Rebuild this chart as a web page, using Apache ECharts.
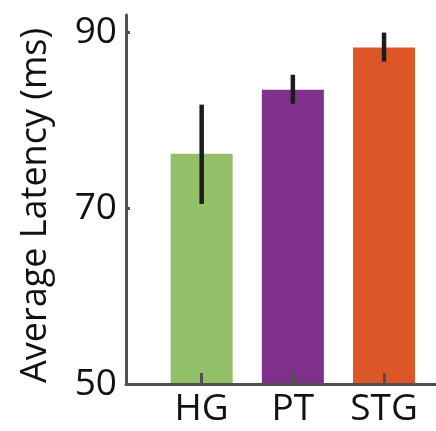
<!DOCTYPE html>
<html>
<head>
<meta charset="utf-8">
<script src="https://cdn.jsdelivr.net/npm/echarts@6/dist/echarts.min.js"></script>
<style>html,body{margin:0;padding:0;background:#fff}#c{width:436px;height:431px}</style>
</head>
<body>
<div id="c"></div>
<script>
var categories = ['HG', 'PT', 'STG'];
var meanLatency = [76.2, 83.5, 88.3];
var errLow = [70.5, 81.9, 86.7];
var errHigh = [81.8, 85.2, 90.0];
var yTickValues = [50, 70, 90];
var barColors = ['#93BF69', '#7F2F8C', '#DD5627'];

var positions = categories.map(function (c, i) { return i + 1; });
var font = '"Open Sans", "Noto Sans", sans-serif';

var chart = echarts.init(document.getElementById('c'));
chart.setOption({
  animation: false,
  backgroundColor: '#fff',
  grid: { left: 126, right: 0, top: 15, bottom: 47, containLabel: false },
  xAxis: {
    type: 'value', min: 0.17, max: 3.57, z: 5,
    axisLine: { show: true, lineStyle: { color: '#505050', width: 3 } },
    axisTick: { show: true, inside: true, length: 11, customValues: positions, lineStyle: { color: '#505050', width: 3 } },
    axisLabel: {
      customValues: positions, margin: 7,
      formatter: function (v) { return categories[Math.round(v) - 1] || ''; },
      fontFamily: font, fontSize: 37, color: '#111'
    },
    splitLine: { show: false }
  },
  yAxis: {
    type: 'value', min: 50, max: 92, z: 5,
    name: 'Average Latency (ms)', nameLocation: 'middle', nameGap: 72,
    nameTextStyle: { fontFamily: font, fontSize: 36, color: '#111', padding: [0, 12, 0, 0] },
    axisLine: { show: true, lineStyle: { color: '#505050', width: 3 } },
    axisTick: { show: true, inside: true, length: 4, customValues: yTickValues, lineStyle: { color: '#505050', width: 3 } },
    axisLabel: { customValues: yTickValues, margin: 9, fontFamily: font, fontSize: 37, color: '#111' },
    splitLine: { show: false }
  },
  series: [
    {
      type: 'bar', barWidth: 62,
      data: meanLatency.map(function (v, i) {
        return { value: [positions[i], v], itemStyle: { color: barColors[i] } };
      })
    },
    {
      type: 'custom', z: 4,
      data: errLow.map(function (lo, i) { return [positions[i], lo, errHigh[i]]; }),
      renderItem: function (params, api) {
        var p1 = api.coord([api.value(0), api.value(1)]);
        var p2 = api.coord([api.value(0), api.value(2)]);
        return {
          type: 'line',
          shape: { x1: p1[0], y1: p1[1], x2: p2[0], y2: p2[1] },
          style: { stroke: '#1c1c1c', lineWidth: 4.5 }
        };
      }
    }
  ]
});
</script>
</body>
</html>
